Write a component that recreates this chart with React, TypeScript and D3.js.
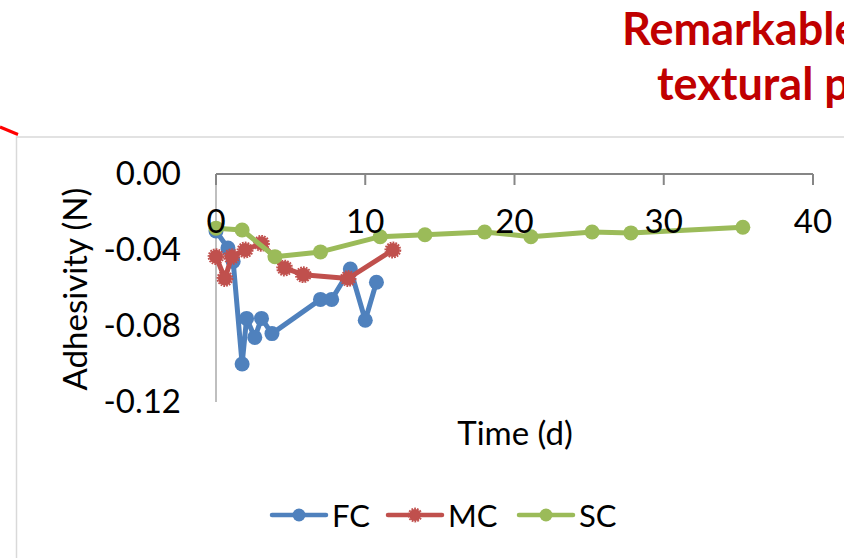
import React from "react";
import * as d3 from "d3";

// Adhesivity measured over storage time for three cheese types
const fcDays = [0, 0.8, 1.15, 1.75, 2.05, 2.6, 3.05, 3.75, 7, 7.75, 9, 10, 10.75];
const fcValues = [-0.030, -0.039, -0.046, -0.100, -0.076, -0.086, -0.076, -0.084, -0.066, -0.066, -0.050, -0.077, -0.057];

const mcDays = [0, 0.6, 1.05, 1.95, 3.05, 4.6, 5.85, 8.85, 11.85];
const mcValues = [-0.0435, -0.055, -0.0435, -0.040, -0.0365, -0.0495, -0.053, -0.055, -0.040];

const scDays = [0, 1.75, 3.95, 7, 11, 14, 18, 21.1, 25.2, 27.8, 35.3];
const scValues = [-0.0285, -0.0295, -0.0435, -0.041, -0.033, -0.032, -0.0305, -0.033, -0.0305, -0.031, -0.028];

const xTickValues = [0, 10, 20, 30, 40];
const yTickValues = [0, -0.04, -0.08, -0.12];

const seriesNames = ["FC", "MC", "SC"];
const titleLines = ["Remarkable", "textural p"];

const COLORS: Record<string, string> = { FC: "#4F81BD", MC: "#C0504D", SC: "#9BBB59" };
const FONT = "Lato, 'Open Sans', sans-serif";

type Pt = { d: number; v: number };

function zip(days: number[], vals: number[]): Pt[] {
  return days.map((d, i) => ({ d, v: vals[i] }));
}

const seriesData: Record<string, Pt[]> = {
  FC: zip(fcDays, fcValues),
  MC: zip(mcDays, mcValues),
  SC: zip(scDays, scValues),
};

function Marker({ name, cx, cy, r }: { name: string; cx: number; cy: number; r: number }) {
  const c = COLORS[name];
  if (name === "MC") {
    // round marker with a scalloped rim
    return (
      <g>
        <circle cx={cx} cy={cy} r={r - 0.5} fill={c} />
        <circle cx={cx} cy={cy} r={r} fill="none" stroke={c} strokeWidth={1.8} strokeDasharray="1.8 1.1" />
      </g>
    );
  }
  return <circle cx={cx} cy={cy} r={r} fill={c} />;
}

export default function App() {
  const width = 844;
  const height = 558;

  const x = d3.scaleLinear().domain([0, 40]).range([216, 813]);
  const y = d3.scaleLinear().domain([-0.12, 0]).range([402, 174]);

  const line = d3
    .line<Pt>()
    .x((p) => x(p.d))
    .y((p) => y(p.v));

  const legendX = [272, 388, 519];
  const legendY = 515;

  return (
    <svg
      width={width}
      height={height}
      viewBox={`0 0 ${width} ${height}`}
      style={{ position: "fixed", left: 0, top: 0, background: "#fff" }}
      fontFamily={FONT}
    >
      <rect x={0} y={0} width={width} height={height} fill="#fff" />

      {/* slide title, running past the right edge */}
      <text x={622} y={45} fill="#C00000" fontWeight={700} fontSize={45}>
        {titleLines[0]}
      </text>
      <text x={657} y={100} fill="#C00000" fontWeight={700} fontSize={45}>
        {titleLines[1]}
      </text>

      {/* red connector stroke */}
      <line x1={0} y1={127} x2={18} y2={134.5} stroke="#FF0000" strokeWidth={3} />

      {/* chart frame */}
      <rect x={16.5} y={137} width={900} height={500} fill="#fff" stroke="#D9D9D9" strokeWidth={1.5} />

      {/* y axis */}
      <line x1={x(0)} y1={y(0)} x2={x(0)} y2={y(-0.12)} stroke="#BFBFBF" strokeWidth={2} />
      {yTickValues.map((t) => (
        <text key={t} x={181} y={y(t) + 10.5} textAnchor="end" fontSize={33} fill="#000">
          {t.toFixed(2)}
        </text>
      ))}

      {/* x axis along zero */}
      <line x1={x(0)} y1={y(0)} x2={x(40)} y2={y(0)} stroke="#868686" strokeWidth={2} />
      {xTickValues.map((t) => (
        <line key={t} x1={x(t)} y1={y(0)} x2={x(t)} y2={y(0) + 11} stroke="#868686" strokeWidth={2} />
      ))}

      {/* series */}
      {seriesNames.map((name) => (
        <g key={name}>
          <path d={line(seriesData[name]) || ""} fill="none" stroke={COLORS[name]} strokeWidth={5} strokeLinejoin="round" />
          {seriesData[name].map((p, i) => (
            <Marker key={i} name={name} cx={x(p.d)} cy={y(p.v)} r={7.5} />
          ))}
        </g>
      ))}

      {/* x tick labels drawn over the data */}
      {xTickValues.map((t) => (
        <text key={t} x={x(t)} y={y(0) + 59} textAnchor="middle" fontSize={33} fill="#000">
          {t}
        </text>
      ))}

      {/* axis titles */}
      <text x={515} y={445} textAnchor="middle" fontSize={33} fill="#000">
        Time (d)
      </text>
      <text transform="translate(87,289) rotate(-90)" textAnchor="middle" fontSize={33} fill="#000">
        Adhesivity (N)
      </text>

      {/* legend */}
      {seriesNames.map((name, i) => (
        <g key={name}>
          <line
            x1={legendX[i]}
            y1={legendY}
            x2={legendX[i] + 54}
            y2={legendY}
            stroke={COLORS[name]}
            strokeWidth={4.5}
            strokeLinecap="round"
          />
          <Marker name={name} cx={legendX[i] + 27} cy={legendY} r={6.5} />
          <text x={legendX[i] + 60} y={legendY + 12} fontSize={31} fill="#000">
            {name}
          </text>
        </g>
      ))}
    </svg>
  );
}
